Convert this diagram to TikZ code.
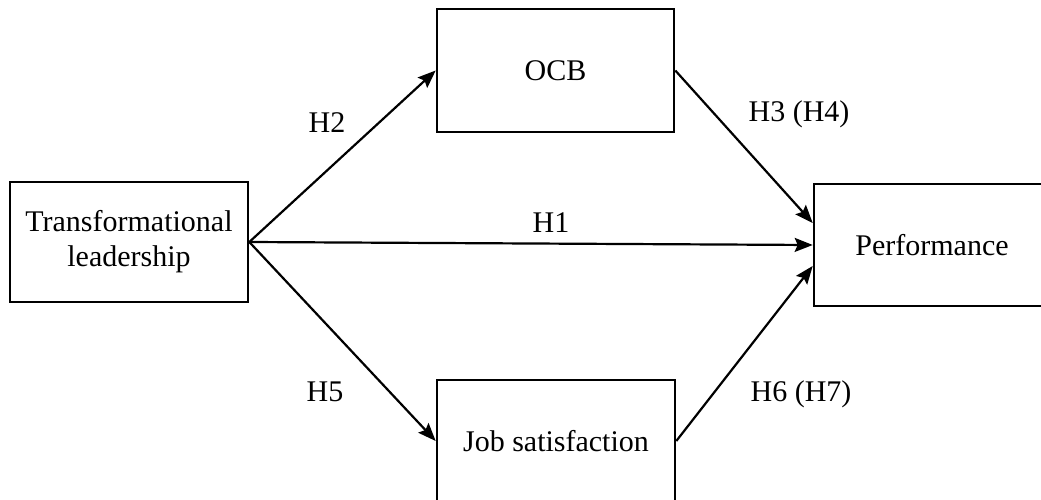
\documentclass[tikz,border=0pt]{standalone}
\usepackage{fontspec}
\setmainfont{Liberation Serif}
\usetikzlibrary{arrows.meta,calc}

\tikzset{
  construct/.style={draw=black, line width=2.6pt, fill=white, inner sep=0pt,
    align=center, font=\fontsize{30}{35}\selectfont},
  path/.style={line width=2.2pt, -{Stealth[length=18pt,width=14pt,inset=3pt]}},
  hyp/.style={font=\fontsize{30}{35}\selectfont, inner sep=0pt}
}

\begin{document}
\begin{tikzpicture}[x=1pt,y=1pt]
  \useasboundingbox (0,0) rectangle (1041,499);
  \clip (0,0) rectangle (1041,499);
  \fill[white] (0,0) rectangle (1041,499);

  % constructs of the model
  \node[construct, minimum width=238pt, minimum height=120pt] (tl) at (129,257)
    {Transformational\\leadership};
  \node[construct, minimum width=237pt, minimum height=123pt] (ocb) at (555.5,428.5) {OCB};
  \node[construct, minimum width=236pt, minimum height=122pt] (perf) at (932,254) {Performance};
  \node[construct, minimum width=238pt, minimum height=122pt] (js) at (556,58) {Job satisfaction};

  % end points on the performance box
  \coordinate (pTop) at ($(perf.west)+(0,22)$);
  \coordinate (pBot) at ($(perf.west)+(0,-21)$);

  % hypothesised paths
  \draw[path] (tl.east) -- (ocb.west);
  \draw[path] (tl.east) -- (perf.west);
  \draw[path] (tl.east) -- (js.west);
  \draw[path] (ocb.east) -- (pTop);
  \draw[path] (js.east) -- (pBot);

  % hypothesis labels
  \node[hyp] (h2) at (327,376) {H2};
  \node[hyp] (h34) at (799,385) {H3 (H4)};
  \node[hyp] (h1) at (551,276) {H1};
  \node[hyp] (h5) at (325,107) {H5};
  \node[hyp] (h67) at (801,105) {H6 (H7)};
\end{tikzpicture}
\end{document}
